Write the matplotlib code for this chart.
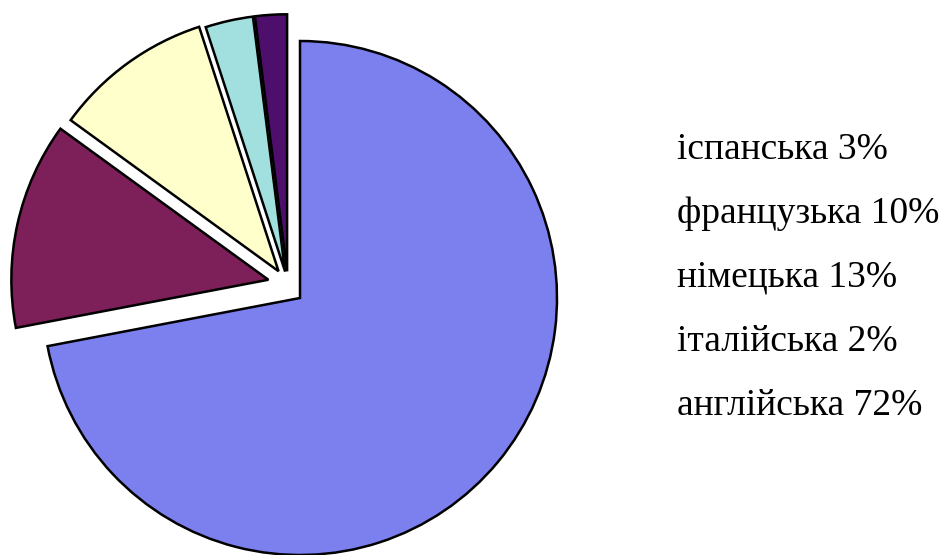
import matplotlib
matplotlib.use("Agg")
import matplotlib.pyplot as plt

# Data (clockwise from 12 o'clock)
languages = ["англійська", "німецька", "французька", "іспанська", "італійська"]
shares = [72, 13, 10, 3, 2]
colors = ["#7B80EE", "#7D1F58", "#FFFFCC", "#A2E0E0", "#4E0F6C"]

# order of the text list on the right
legend_order = ["іспанська", "французька", "німецька", "італійська", "англійська"]

# style: the small slices are pulled away from the big one as a group,
# and also slightly apart from each other
small_explode = [0, 0.078, 0.062, 0.05, 0.05]
group_shift = (-0.047, 0.054)

W, H = 942, 555
fig = plt.figure(figsize=(W / 100, H / 100), dpi=100)

R_PX = 257.0
CX, CY = 300.0, 298.0
AX_W = 600.0
ax = fig.add_axes([0, 0, AX_W / W, 1])
wp = dict(edgecolor="black", linewidth=1.8)

# big slice
w1, _ = ax.pie(shares, colors=colors, startangle=90, counterclock=False,
               radius=1.0, center=(0, 0), wedgeprops=wp)
for w in w1[1:]:
    w.set_visible(False)

# small slices
w2, _ = ax.pie(shares, colors=colors, startangle=90, counterclock=False,
               radius=1.0, center=group_shift, explode=small_explode, wedgeprops=wp)
w2[0].set_visible(False)

ax.set_xlim(-CX / R_PX, (AX_W - CX) / R_PX)
ax.set_ylim((CY - H) / R_PX, CY / R_PX)
ax.set_aspect("equal")
ax.axis("off")

baselines = [159, 223, 287, 351, 415]
for name, yb in zip(legend_order, baselines):
    val = shares[languages.index(name)]
    fig.text(677 / W, 1 - yb / H, f"{name} {val}%", ha="left", va="baseline",
             fontsize=27, family=["Liberation Serif", "DejaVu Serif"], color="black")

fig.savefig("out.png", dpi=100)
